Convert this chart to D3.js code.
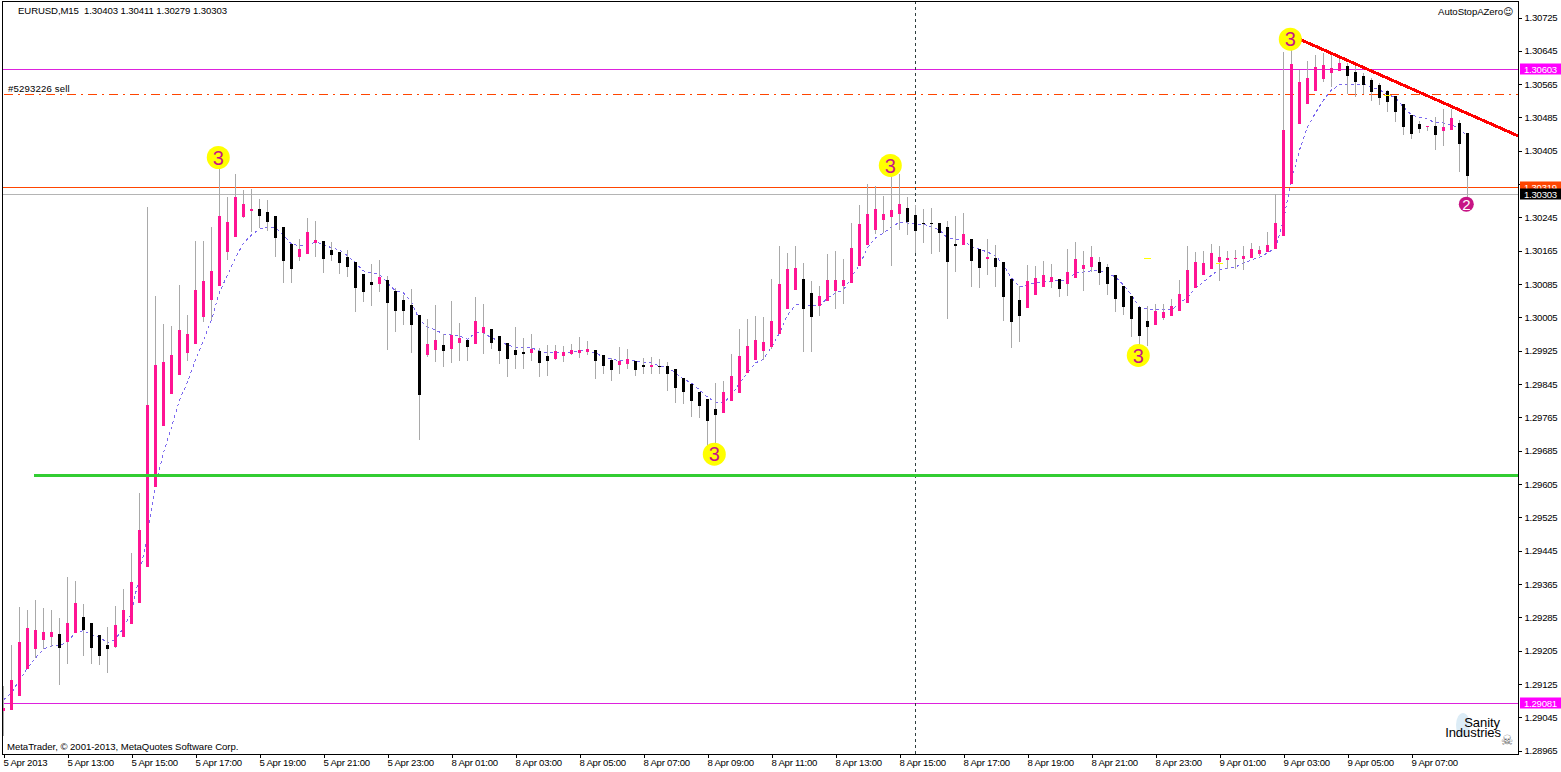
<!DOCTYPE html>
<html>
<head>
<meta charset="utf-8">
<title>EURUSD,M15</title>
<script src="https://cdn.jsdelivr.net/npm/d3@7"></script>
<style>
  html, body { margin: 0; padding: 0; background: #fff; overflow: hidden; }
  text { font-family: "Liberation Sans", sans-serif; font-size: 9.6px; letter-spacing: -0.05px; fill: #000; }
  .axis path, .axis line { stroke: #000; shape-rendering: crispEdges; }
  .axis text, .box text { font-family: "Liberation Sans", sans-serif; font-size: 9.6px; letter-spacing: -0.25px; fill: #000; }
</style>
</head>
<body>
<div id="chart"></div>
<script>
/* EURUSD M15 candles, prices kept as integer points (130403 = 1.30403) */

const timeLabels = ["5 Apr 2013", "5 Apr 13:00", "5 Apr 15:00", "5 Apr 17:00", "5 Apr 19:00", "5 Apr 21:00", "5 Apr 23:00",
  "8 Apr 01:00", "8 Apr 03:00", "8 Apr 05:00", "8 Apr 07:00", "8 Apr 09:00", "8 Apr 11:00", "8 Apr 13:00", "8 Apr 15:00",
  "8 Apr 17:00", "8 Apr 19:00", "8 Apr 21:00", "8 Apr 23:00", "9 Apr 01:00", "9 Apr 03:00", "9 Apr 05:00", "9 Apr 07:00"];

const priceTicks = [130725, 130645, 130565, 130485, 130405, 130325, 130245, 130165, 130085, 130005, 129925, 129845,
  129765, 129685, 129605, 129525, 129445, 129365, 129285, 129205, 129125, 129045, 128965];

const open = [
  129061,129063,129097,129161,129209,129231,129238,129245,129226,129248,
  129286,129272,129243,129219,129214,129238,129269,129320,129406,129598,
  129745,129821,129867,129920,129941,130006,130047,130081,130162,130198,
  130246,130261,130265,130258,130249,130222,130181,130150,130157,130184,
  130189,130167,130162,130150,130138,130109,130090,130085,130095,130069,
  130047,130035,130011,129915,129927,129939,129929,129944,129951,129941,
  129968,129977,129961,129944,129927,129922,129920,129925,129913,129905,
  129913,129917,129920,129922,129927,129915,129903,129891,129893,129901,
  129891,129886,129889,129889,129881,129860,129845,129826,129809,129785,
  129776,129805,129824,129872,129903,129925,129934,129965,130025,130071,
  130097,130064,130033,130045,130069,130081,130088,130129,130179,130215,
  130239,130246,130253,130268,130251,130232,130232,130232,130222,130181,
  130179,130193,130169,130145,130148,130138,130097,130047,130028,130059,
  130078,130090,130097,130085,130100,130121,130126,130138,130126,130107,
  130081,130057,130030,129997,129987,130004,130009,130021,130040,130076,
  130107,130121,130138,130143,130145,130145,130148,130157,130162,130169,
  130201,130325,130469,130517,130549,130577,130592,130597,130609,130594,
  130585,130575,130563,130549,130537,130517,130491,130469,130462,130465,
  130453,130455,130472,130448];

const high = [
  129121,129219,129310,129303,129327,129308,129303,129284,129382,129373,
  129317,129272,129243,129262,129313,129354,129440,129584,130270,130057,
  129989,129985,130083,130011,130189,130189,130222,130371,130294,130349,
  130311,130313,130289,130287,130249,130222,130181,130193,130244,130237,
  130189,130186,130162,130167,130138,130109,130133,130143,130105,130076,
  130059,130073,130011,130001,130035,129965,130045,129992,129951,130054,
  130037,129977,129961,129944,129982,129956,129965,129932,129939,129939,
  129937,129941,129958,129949,129927,129915,129908,129934,129929,129901,
  129908,129910,129905,129898,129881,129860,129845,129826,129809,129848,
  129853,129917,129977,130001,130009,130006,130097,130177,130160,130177,
  130136,130093,130081,130157,130165,130145,130232,130275,130325,130321,
  130297,130354,130349,130294,130275,130265,130268,130232,130237,130249,
  130256,130193,130169,130193,130179,130138,130097,130081,130131,130129,
  130141,130133,130097,130169,130186,130165,130177,130150,130133,130107,
  130081,130057,130030,130033,130037,130037,130049,130095,130177,130162,
  130165,130181,130177,130165,130167,130177,130184,130177,130210,130301,
  130642,130683,130599,130621,130635,130640,130635,130625,130616,130609,
  130592,130580,130568,130551,130537,130517,130491,130477,130465,130486,
  130505,130505,130479,130448];

const low = [
  129001,129063,129097,129161,129188,129209,129214,129123,129173,129248,
  129193,129173,129171,129152,129212,129238,129269,129320,129406,129598,
  129745,129821,129867,129901,129941,129994,129999,130081,130143,130198,
  130244,130210,130220,130213,130150,130088,130088,130141,130157,130150,
  130112,130141,130109,130102,130018,130042,130033,130066,129927,129970,
  129987,129920,129711,129910,129898,129886,129896,129901,129901,129941,
  129917,129929,129893,129862,129881,129881,129901,129862,129865,129903,
  129898,129915,129908,129915,129857,129869,129853,129869,129881,129865,
  129869,129869,129869,129829,129800,129797,129766,129764,129685,129677,
  129776,129805,129824,129872,129903,129903,129929,129965,130025,130071,
  129922,129922,130009,130045,130025,130037,130088,130129,130179,130205,
  130208,130129,130215,130203,130160,130184,130157,130162,130001,130114,
  130179,130078,130076,130107,130078,129997,129932,129946,130028,130059,
  130078,130076,130054,130057,130100,130069,130114,130083,130059,130018,
  130011,129958,129908,129937,129987,129999,130009,130021,130040,130076,
  130107,130121,130093,130121,130121,130119,130148,130153,130162,130169,
  130201,130325,130469,130517,130549,130570,130558,130597,130541,130534,
  130541,130525,130515,130498,130474,130443,130433,130448,130453,130407,
  130417,130455,130354,130277];

const close = [
  129068,129135,129226,129260,129255,129250,129250,129212,129272,129320,
  129255,129212,129193,129209,129267,129303,129370,129495,129795,129891,
  129898,129915,129975,129965,130071,130093,130117,130249,130234,130294,
  130277,130265,130249,130234,130196,130141,130121,130169,130210,130191,
  130145,130155,130136,130126,130076,130066,130083,130102,130040,130021,
  130021,129987,129819,129941,129951,129925,129963,129956,129934,129997,
  129982,129944,129925,129905,129915,129917,129929,129896,129901,129925,
  129922,129927,129927,129929,129901,129889,129879,129901,129905,129879,
  129886,129891,129886,129869,129836,129826,129805,129793,129757,129771,
  129826,129865,129913,129937,129951,129946,129997,130085,130121,130124,
  130025,130006,130057,130095,130095,130095,130172,130229,130253,130265,
  130253,130263,130277,130234,130213,130229,130229,130208,130138,130177,
  130205,130141,130124,130150,130126,130054,129994,130009,130093,130100,
  130107,130102,130073,130114,130145,130131,130150,130112,130085,130049,
  130030,130001,129961,129982,130021,130018,130033,130061,130119,130138,
  130136,130160,130150,130148,130148,130153,130169,130167,130179,130232,
  130455,130613,130570,130580,130606,130611,130604,130616,130585,130570,
  130563,130546,130532,130522,130498,130462,130445,130457,130465,130443,
  130462,130484,130421,130345];

// moving average drawn as the thin dashed line
const movingAvg = [
  129087,129104,129135,129164,129188,129209,129217,129217,129226,129250,
  129253,129243,129238,129224,129233,129260,129296,129387,129483,129603,
  129680,129742,129807,129850,129903,129951,129999,130066,130107,130148,
  130184,130203,130217,130222,130220,130203,130181,130177,130179,130186,
  130181,130172,130167,130153,130136,130117,130112,130109,130088,130069,
  130064,130042,129999,129982,129975,129965,129963,129961,129953,129968,
  129968,129956,129949,129939,129934,129934,129932,129925,129920,129920,
  129920,129922,129925,129925,129920,129910,129905,129901,129905,129901,
  129896,129896,129889,129886,129872,129857,129848,129831,129814,129802,
  129800,129819,129848,129872,129896,129905,129934,129968,130011,130035,
  130037,130033,130033,130052,130064,130071,130102,130131,130172,130196,
  130208,130222,130234,130232,130229,130229,130222,130215,130196,130193,
  130191,130174,130169,130162,130153,130131,130100,130078,130083,130088,
  130090,130093,130093,130095,130112,130114,130117,130117,130112,130102,
  130083,130059,130030,130025,130023,130023,130023,130040,130052,130076,
  130090,130107,130119,130124,130126,130136,130143,130150,130160,130172,
  130239,130335,130407,130462,130496,130527,130551,130563,130563,130565,
  130565,130558,130551,130541,130532,130510,130491,130486,130481,130472,
  130472,130467,130460,130438];

// horizontal levels with a price box on the axis
const levelPrices = [130319, 130303, 130603, 129081];
const levelLabels = ["1.30319", "1.30303", "1.30603", "1.29081"];
const levelLine = ["#ff4500", "#b4b4b4", "#dd22dd", "#dd22dd"];
const levelBox = ["#ff4500", "#000000", "#ff00ff", "#ff00ff"];

const orderPrice = 130543;
const supportPrice = 129626;
const supportStart = 3.8;
const crosshairIndex = 114;
const lastIndex = 183;

const trendIndex = [162, 189.3];
const trendPrice = [130673, 130441];

// numbered markers on the swing points
const markIndex = [27, 111, 89, 142, 161, 183];
const markPrice = [130389, 130370, 129677, 129914, 130673, 130277];
const markText = ["3", "3", "3", "3", "3", "2"];

// short yellow dashes
const dashIndex = [143, 152, 173];
const dashPrice = [130150, 130138, 130541];

const width = 1561,
    height = 772,
    margin = ({ top: 1, right: 1518, bottom: 754, left: 2 });

const svg = d3.select("#chart")
    .append("svg")
    .attr("width", width)
    .attr("height", height)
    .style("display", "block");

const x = d3.scaleLinear()
    .domain([0, lastIndex])
    .range([3.5, 1467.5]);

const y = d3.scaleLinear()
    .domain([128965, 130725])
    .range([750.8, 17.5]);

const crisp = v => Math.ceil(v) + 0.5;

svg.append("defs").append("clipPath")
    .attr("id", "plot")
    .append("rect")
    .attr("x", margin.left)
    .attr("y", margin.top)
    .attr("width", margin.right - margin.left)
    .attr("height", margin.bottom - margin.top);

const plot = svg.append("g").attr("clip-path", "url(#plot)");

const candles = d3.range(open.length).map(i => ({
    i, open: open[i], high: high[i], low: low[i], close: close[i]
}));

// Horizontal levels
plot.selectAll(".level")
    .data(levelPrices)
    .join("line")
    .attr("class", "level")
    .attr("x1", margin.left)
    .attr("x2", margin.right)
    .attr("y1", d => crisp(y(d)))
    .attr("y2", d => crisp(y(d)))
    .attr("stroke", (d, i) => levelLine[i])
    .attr("shape-rendering", "crispEdges");

// Open order line
plot.append("line")
    .attr("x1", x(0))
    .attr("x2", margin.right)
    .attr("y1", crisp(y(orderPrice)))
    .attr("y2", crisp(y(orderPrice)))
    .attr("stroke", "#ff4500")
    .attr("stroke-dasharray", "9,5,2,5")
    .attr("shape-rendering", "crispEdges");

// Crosshair
plot.append("line")
    .attr("x1", x(crosshairIndex))
    .attr("x2", x(crosshairIndex))
    .attr("y1", margin.top)
    .attr("y2", margin.bottom)
    .attr("stroke", "#2f3f3f")
    .attr("stroke-dasharray", "3,3")
    .attr("shape-rendering", "crispEdges");

// Moving average
const maLine = d3.line()
    .x((d, i) => x(i))
    .y(d => y(d));

plot.append("path")
    .datum(movingAvg)
    .attr("d", maLine)
    .attr("fill", "none")
    .attr("stroke", "#7b68ee")
    .attr("stroke-dasharray", "3,3")
    .attr("shape-rendering", "crispEdges");

// Wicks
plot.selectAll(".wick")
    .data(candles)
    .join("line")
    .attr("class", "wick")
    .attr("x1", d => x(d.i))
    .attr("x2", d => x(d.i))
    .attr("y1", d => y(d.high))
    .attr("y2", d => y(d.low))
    .attr("stroke", "#a9a9a9")
    .attr("shape-rendering", "crispEdges");

// Bodies
plot.selectAll(".body")
    .data(candles)
    .join("rect")
    .attr("class", "body")
    .attr("x", d => x(d.i) - 1.5)
    .attr("width", 3)
    .attr("y", d => y(Math.max(d.open, d.close)))
    .attr("height", d => Math.max(1, Math.abs(y(d.open) - y(d.close))))
    .attr("fill", d => d.close >= d.open ? "#ff1493" : "#000")
    .attr("shape-rendering", "crispEdges");

// Yellow dashes
plot.selectAll(".dash")
    .data(dashIndex)
    .join("line")
    .attr("class", "dash")
    .attr("x1", d => x(d) - 3.5)
    .attr("x2", d => x(d) + 3.5)
    .attr("y1", (d, i) => crisp(y(dashPrice[i])))
    .attr("y2", (d, i) => crisp(y(dashPrice[i])))
    .attr("stroke", "#ffff00")
    .attr("shape-rendering", "crispEdges");

// Support line
plot.append("line")
    .attr("x1", x(supportStart))
    .attr("x2", margin.right)
    .attr("y1", y(supportPrice))
    .attr("y2", y(supportPrice))
    .attr("stroke", "#32cd32")
    .attr("stroke-width", 3)
    .attr("shape-rendering", "crispEdges");

// Trend line
plot.append("line")
    .attr("x1", x(trendIndex[0]))
    .attr("x2", x(trendIndex[1]))
    .attr("y1", y(trendPrice[0]))
    .attr("y2", y(trendPrice[1]))
    .attr("stroke", "#ff0000")
    .attr("stroke-width", 3)
    .attr("shape-rendering", "crispEdges");

// Markers
const marks = plot.selectAll(".mark")
    .data(markIndex)
    .join("g")
    .attr("class", "mark")
    .attr("transform", (d, i) => `translate(${x(d) - 1.2},${y(markPrice[i])})`);

marks.append("circle")
    .attr("r", (d, i) => markText[i] == "3" ? 11.5 : 7.5)
    .attr("fill", (d, i) => markText[i] == "3" ? "#ffff00" : "#c71585");

marks.append("text")
    .attr("text-anchor", "middle")
    .attr("dy", "0.36em")
    .style("font-size", (d, i) => markText[i] == "3" ? "20px" : "15px")
    .style("fill", (d, i) => markText[i] == "3" ? "#c71585" : "#fff")
    .text((d, i) => markText[i]);

// Chart texts
plot.append("text").attr("x", 18).attr("y", 14).style("letter-spacing", "-0.1px").text("EURUSD,M15  1.30403 1.30411 1.30279 1.30303").attr("xml:space", "preserve");
plot.append("text").attr("x", 8).attr("y", 92).style("letter-spacing", "0.15px").text("#5293226 sell");
plot.append("text").attr("x", 7).attr("y", 750).text("MetaTrader, © 2001-2013, MetaQuotes Software Corp.");
plot.append("text").attr("x", 1513).attr("y", 15).attr("text-anchor", "end")
    .html('AutoStopAZero<tspan style="font-family:\'DejaVu Sans\'">☺</tspan>');

// Logo
plot.append("ellipse").attr("cx", 1463).attr("cy", 725).attr("rx", 7).attr("ry", 12).attr("fill", "#dcecf6");
plot.append("text").attr("x", 1500).attr("y", 727).attr("text-anchor", "end").style("font-size", "13px").text("Sanity");
plot.append("text").attr("x", 1501).attr("y", 737).attr("text-anchor", "end").style("font-size", "13px").text("Industries");
plot.append("text").attr("x", 1507).attr("y", 745).attr("text-anchor", "middle")
    .style("font-family", "'DejaVu Sans'").style("font-size", "14px").style("fill", "#666").text("☠");

// Frame
svg.append("rect")
    .attr("x", margin.left + 0.5)
    .attr("y", margin.top + 0.5)
    .attr("width", margin.right - margin.left)
    .attr("height", margin.bottom - margin.top)
    .attr("fill", "none")
    .attr("stroke", "#000")
    .attr("shape-rendering", "crispEdges");

// Price axis
svg.append("g")
    .attr("class", "axis")
    .attr("transform", `translate(${margin.right + 0.5},0)`)
    .call(d3.axisRight(y).tickValues(priceTicks).tickFormat(d => (d / 1e5).toFixed(5)).tickSize(3).tickPadding(3).tickSizeOuter(0))
    .call(g => g.select(".domain").remove());

// Time axis
svg.append("g")
    .attr("class", "axis")
    .attr("transform", `translate(0,${margin.bottom + 0.5})`)
    .call(d3.axisBottom(x).tickValues(timeLabels.map((d, i) => i * 8)).tickFormat((d, i) => timeLabels[i]).tickSize(3).tickPadding(2).tickSizeOuter(0))
    .call(g => g.select(".domain").remove())
    .selectAll("text")
    .attr("text-anchor", "start")
    .attr("x", -0.5);

// Price boxes
const boxes = svg.selectAll(".box")
    .data(levelPrices)
    .join("g")
    .attr("class", "box")
    .attr("transform", d => `translate(1520,${crisp(y(d))})`);

boxes.append("rect")
    .attr("y", -6)
    .attr("width", 41)
    .attr("height", 11)
    .attr("fill", (d, i) => levelBox[i]);

boxes.append("text")
    .attr("x", 4)
    .attr("y", 3.5)
    .style("fill", "#fff")
    .text((d, i) => levelLabels[i]);
</script>
</body>
</html>
